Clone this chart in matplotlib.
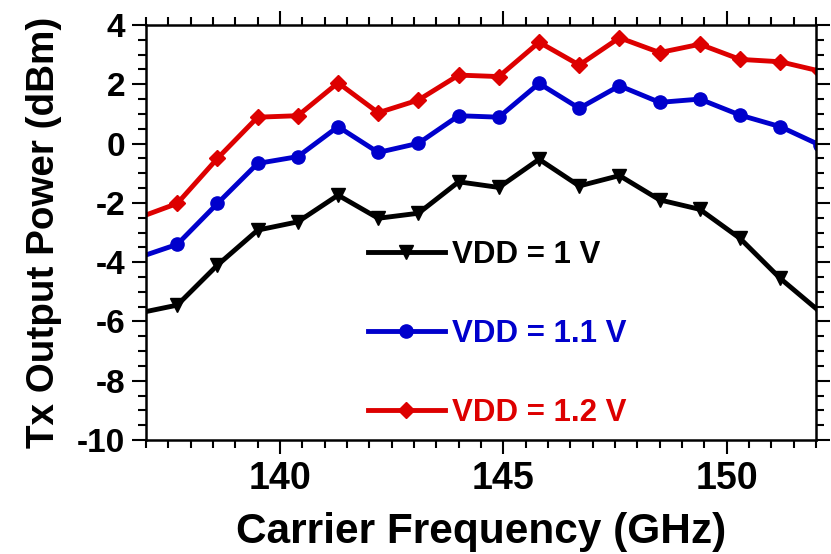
import matplotlib
matplotlib.use("Agg")
import matplotlib.pyplot as plt
from matplotlib.ticker import MultipleLocator

plt.rcParams['font.family'] = ['Liberation Sans', 'DejaVu Sans']
plt.rcParams['font.weight'] = 'bold'
plt.rcParams['axes.unicode_minus'] = False

freq = [136.8, 137.7, 138.6, 139.5, 140.4, 141.3, 142.2, 143.1, 144.0,
        144.9, 145.8, 146.7, 147.6, 148.5, 149.4, 150.3, 151.2, 152.1]
vdd_1_0 = [-5.73, -5.45, -4.10, -2.92, -2.64, -1.74, -2.52, -2.35, -1.29,
           -1.48, -0.53, -1.43, -1.08, -1.90, -2.22, -3.20, -4.55, -5.69]
vdd_1_1 = [-3.86, -3.40, -2.02, -0.67, -0.44, 0.57, -0.30, 0.01, 0.94,
           0.89, 2.03, 1.19, 1.95, 1.39, 1.50, 0.96, 0.57, -0.06]
vdd_1_2 = [-2.52, -2.02, -0.50, 0.89, 0.94, 2.05, 1.04, 1.47, 2.31,
           2.26, 3.42, 2.65, 3.57, 3.07, 3.35, 2.84, 2.76, 2.44]
labels = ['VDD = 1 V', 'VDD = 1.1 V', 'VDD = 1.2 V']
colors = ['#000000', '#0000cc', '#dd0000']
markers = ['v', 'o', 'D']
msizes = [10, 9.5, 8]

fig = plt.figure(figsize=(8.31, 5.54), dpi=100)
ax = fig.add_axes([146/831, 114/554, 670/831, 415/554])

for ys, lab, c, m, ms in zip([vdd_1_0, vdd_1_1, vdd_1_2], labels, colors, markers, msizes):
    ax.plot(freq, ys, color=c, marker=m, markersize=ms, linewidth=3.5, label=lab)

ax.set_xlim(137, 152)
ax.set_ylim(-10, 4)
ax.xaxis.set_major_locator(MultipleLocator(5))
ax.xaxis.set_minor_locator(MultipleLocator(0.5))
ax.yaxis.set_major_locator(MultipleLocator(2))
ax.yaxis.set_minor_locator(MultipleLocator(0.5))
ax.tick_params(which='both', direction='out', top=True, right=True, width=1.5)
ax.tick_params(which='major', length=10)
ax.tick_params(which='minor', length=5.5)
ax.tick_params(axis='x', which='major', labelsize=27, pad=5)
ax.tick_params(axis='y', which='major', labelsize=24, pad=5)
for s in ax.spines.values():
    s.set_linewidth(1.8)

ax.set_xlabel('Carrier Frequency (GHz)', fontsize=30.5, fontweight='bold', labelpad=11)
ax.set_ylabel('Tx Output Power (dBm)', fontsize=27.8, fontweight='bold', labelpad=11)

leg = ax.legend(loc='upper left', bbox_to_anchor=(0.331, 0.483), frameon=False,
                fontsize=22.5, handlelength=2.46, handletextpad=0.22,
                labelspacing=1.57, borderpad=0, borderaxespad=0, labelcolor='linecolor')

fig.savefig('out.png', dpi=100)
